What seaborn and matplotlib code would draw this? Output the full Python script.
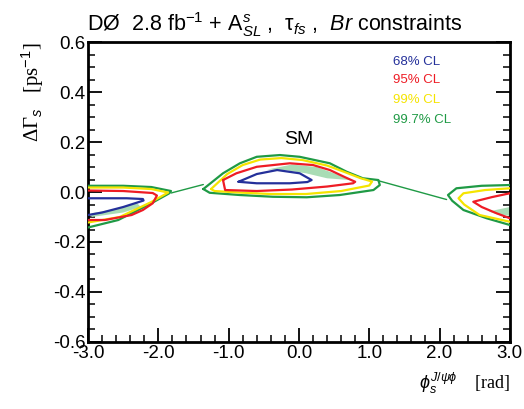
import numpy as np
import pandas as pd
import matplotlib
matplotlib.use("Agg")
import matplotlib.pyplot as plt
import seaborn as sns
from matplotlib.ticker import MultipleLocator, FormatStrFormatter

# ---------------- data ----------------
cl_labels = ["68% CL", "95% CL", "99% CL", "99.7% CL"]
cl_colors = ["#24309a", "#ee1c25", "#f5e400", "#1f9a45"]

# central island (phi_s around 0)
green_c_x = [-1.36, -1.08, -0.84, -0.60, -0.27, 0.01, 0.44, 0.68, 0.91, 1.13, 1.15, 1.06, 0.58, 0.11, -0.37, -0.84, -1.27, -1.36]
green_c_y = [0.012, 0.075, 0.115, 0.141, 0.148, 0.141, 0.115, 0.081, 0.055, 0.048, 0.028, 0.008, -0.012, -0.021, -0.019, -0.012, -0.003, 0.012]
yellow_c_x = [-1.25, -1.02, -0.80, -0.55, -0.25, 0.05, 0.40, 0.65, 0.88, 1.04, 1.00, 0.60, 0.10, -0.40, -0.85, -1.20, -1.25]
yellow_c_y = [0.012, 0.072, 0.108, 0.130, 0.136, 0.128, 0.106, 0.080, 0.055, 0.042, 0.026, 0.004, -0.008, -0.008, -0.002, 0.004, 0.012]
red_c_x = [-1.08, -0.89, -0.60, -0.13, 0.20, 0.44, 0.65, 0.80, 0.77, 0.40, -0.10, -0.60, -1.05, -1.08]
red_c_y = [0.048, 0.075, 0.101, 0.115, 0.108, 0.088, 0.060, 0.041, 0.035, 0.022, 0.010, 0.004, 0.008, 0.048]
blue_c_x = [-0.86, -0.60, -0.31, 0.01, 0.18, 0.12, -0.13, -0.60, -0.86]
blue_c_y = [0.041, 0.072, 0.088, 0.075, 0.048, 0.040, 0.035, 0.035, 0.041]
shade_c_x = [-0.45, -0.10, 0.25, 0.55, 0.72, 0.40, 0.10, -0.20, -0.45]
shade_c_y = [0.090, 0.110, 0.100, 0.070, 0.048, 0.055, 0.075, 0.088, 0.090]

# left island (phi_s near -pi)
green_l_x = [-3.0, -2.5, -2.1, -1.82, -1.85, -2.1, -2.57, -3.0]
green_l_y = [0.025, 0.025, 0.020, 0.004, -0.006, -0.045, -0.112, -0.142]
yellow_l_x = [-3.0, -2.5, -2.1, -1.86, -2.1, -2.55, -3.0]
yellow_l_y = [0.018, 0.018, 0.012, -0.002, -0.040, -0.100, -0.122]
red_l_x = [-3.0, -2.5, -2.08, -2.02, -2.08, -2.22, -2.38, -2.76, -3.0]
red_l_y = [0.006, 0.004, -0.004, -0.014, -0.045, -0.072, -0.092, -0.112, -0.112]
blue_l_x = [-3.0, -2.75, -2.45, -2.22, -2.21, -2.5, -2.8, -3.0]
blue_l_y = [-0.025, -0.025, -0.025, -0.028, -0.034, -0.060, -0.082, -0.092]
shade_l_x = [-2.95, -2.6, -2.3, -2.25, -2.5, -2.95]
shade_l_y = [-0.085, -0.068, -0.045, -0.060, -0.082, -0.100]

# right island (phi_s near +pi)
green_r_x = [3.0, 2.6, 2.24, 2.12, 2.18, 2.34, 2.67, 3.0]
green_r_y = [0.028, 0.025, 0.015, -0.012, -0.035, -0.072, -0.105, -0.132]
yellow_r_x = [3.0, 2.65, 2.34, 2.27, 2.35, 2.57, 3.0]
yellow_r_y = [0.015, 0.008, -0.005, -0.025, -0.050, -0.092, -0.119]
red_r_x = [3.0, 2.75, 2.48, 2.60, 2.81, 3.0]
red_r_y = [-0.005, -0.020, -0.039, -0.060, -0.085, -0.105]
shade_r_x = [2.75, 3.0, 3.0, 2.85, 2.7]
shade_r_y = [-0.075, -0.060, -0.095, -0.092, -0.078]

# thin 99.7% bands joining the islands
tail_l_x = [-1.82, -1.36]
tail_l_y = [-0.004, 0.030]
tail_r_x = [1.12, 2.10]
tail_r_y = [0.046, -0.030]

x_ticks = [-3.0, -2.0, -1.0, 0.0, 1.0, 2.0, 3.0]
y_ticks = [-0.6, -0.4, -0.2, 0.0, 0.2, 0.4, 0.6]

# ---------------- style ----------------
sns.set_theme(style="ticks")
plt.rcParams['font.family'] = ['Liberation Sans', 'DejaVu Sans']
plt.rcParams['mathtext.fontset'] = 'custom'
plt.rcParams['mathtext.rm'] = 'Liberation Sans'
plt.rcParams['mathtext.it'] = 'Liberation Sans:italic'
plt.rcParams['mathtext.bf'] = 'Liberation Sans:bold'

fig = plt.figure(figsize=(5.24, 4.09), dpi=100)
ax = fig.add_axes([0.168, 0.164, 0.805, 0.733])

shade = "#a9dcb5"
for sx, sy in [(shade_c_x, shade_c_y), (shade_l_x, shade_l_y), (shade_r_x, shade_r_y)]:
    ax.fill(sx, sy, color=shade, lw=0, zorder=1)

def draw(xs, ys, color, lw=1.6):
    sns.lineplot(x=xs, y=ys, sort=False, estimator=None, color=color,
                 lw=lw, legend=False, ax=ax, zorder=3)

blue, red, yellow, green = cl_colors
draw(tail_l_x, tail_l_y, green, lw=1.0)
draw(tail_r_x, tail_r_y, green, lw=1.0)
for gx, gy in [(green_c_x, green_c_y), (green_l_x, green_l_y), (green_r_x, green_r_y)]:
    draw(gx, gy, green)
for yx, yy in [(yellow_c_x, yellow_c_y), (yellow_l_x, yellow_l_y), (yellow_r_x, yellow_r_y)]:
    draw(yx, yy, yellow)
for rx, ry in [(red_c_x, red_c_y), (red_l_x, red_l_y), (red_r_x, red_r_y)]:
    draw(rx, ry, red)
for bx, by in [(blue_c_x, blue_c_y), (blue_l_x, blue_l_y)]:
    draw(bx, by, blue)

ax.set_xlim(-3.0, 3.0)
ax.set_ylim(-0.6, 0.6)
ax.set_xticks(x_ticks)
ax.set_yticks(y_ticks)
ax.xaxis.set_major_formatter(FormatStrFormatter('%.1f'))
ax.yaxis.set_major_formatter(FormatStrFormatter('%.1f'))
ax.xaxis.set_minor_locator(MultipleLocator(0.2))
ax.yaxis.set_minor_locator(MultipleLocator(0.05))
ax.tick_params(which='both', direction='in', left=True, right=True, bottom=True, top=False,
               color='black', labelsize=13.5, labelcolor='black')
ax.tick_params(axis='y', pad=2)
ax.tick_params(axis='x', pad=2)
ax.tick_params(which='major', length=10, width=1.3)
ax.tick_params(which='minor', length=5, width=1.1)
for s in ax.spines.values():
    s.set_visible(True)
    s.set_color('black')
    s.set_linewidth(2)
ax.set_facecolor('white')
ax.grid(False)

# legend as coloured text
leg_y = [0.52, 0.448, 0.368, 0.288]
for lab, col, yy in zip(cl_labels, cl_colors, leg_y):
    ax.text(1.34, yy, lab, color=col, fontsize=9.5, va='center', ha='left')

ax.text(0.0, 0.21, "SM", fontsize=14, ha='center', va='center', color='black')

fig.text(0.166, 0.94, r"DØ  2.8 fb$^{-1}$ + A$_{SL}^{s}$ ,  τ$_{fs}$ ,  $Br$ constraints",
         fontsize=15.5, ha='left', va='center', color='black')

ax.set_ylabel("ΔΓ$_{s}$   [ps$^{-1}$]", loc='top', fontsize=15,
              family=['Liberation Serif', 'DejaVu Serif'], color='black')
ax.yaxis.set_label_coords(-0.10, 1.0)
ax.set_xlabel(r"$\phi_s^{J/\psi\phi}$    [rad]", loc='right', fontsize=13,
              family=['Liberation Serif', 'DejaVu Serif'], color='black')
ax.xaxis.set_label_coords(1.0, -0.095)

fig.savefig("out.png", dpi=100, facecolor='white')
